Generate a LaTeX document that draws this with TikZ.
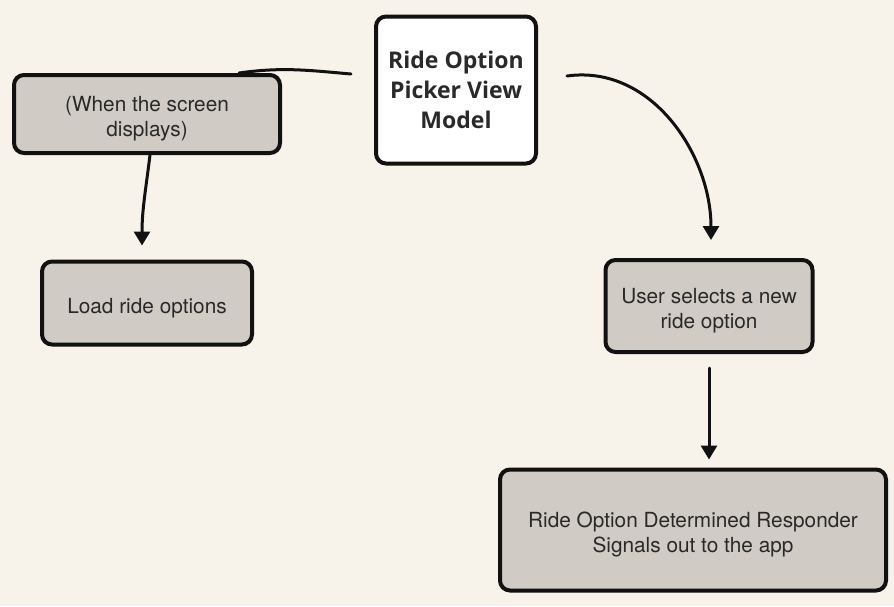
\documentclass[tikz,border=0pt]{standalone}
\usepackage{fontspec}
\setmainfont{TeX Gyre Heros}
\newfontfamily\vmfont{Open Sans}
\usepackage{tikz}
\usetikzlibrary{arrows.meta,positioning,calc}

\definecolor{paper}{HTML}{F7F3EA}
\definecolor{card}{HTML}{D0CCC5}
\definecolor{ink}{HTML}{111111}

% extra room above the first line, so that the text sits a little low
\newcommand{\topgap}{\rule{0pt}{12.5pt}}

\tikzset{
  box/.style={draw=ink, line width=2pt, rounded corners=5pt, fill=card,
    align=center, inner sep=0pt, font=\fontsize{10.4}{12.5}\selectfont, text=ink!90},
  vmbox/.style={box, fill=white, font=\vmfont\bfseries\fontsize{11.5}{15}\selectfont},
  link/.style={draw=ink, line width=1.5pt, line cap=round},
  arr/.style={link, -{Triangle[width=8pt,length=7pt]}}
}

\begin{document}
\begin{tikzpicture}[x=0.5pt,y=-0.5pt]
\fill[paper] (0,0) rectangle (894,606);
\useasboundingbox (0,0) rectangle (894,606);

\node[vmbox, minimum width=80pt, minimum height=73.5pt] (vm) at (456,90) {Ride Option\\Picker View\\Model};
\node[box, minimum width=133pt, minimum height=39pt] (when) at (147,114) {\topgap(When the screen\\displays)};
\node[box, minimum width=105pt, minimum height=41.5pt] (load) at (147,303) {\topgap Load ride options};
\node[box, minimum width=103.5pt, minimum height=46pt] (sel) at (709,306) {\topgap User selects a new\\ride option};
\node[box, minimum width=193pt, minimum height=60.5pt] (resp) at (693,530) {\topgap Ride Option Determined Responder\\Signals out to the app};

\draw[link] ([xshift=-11.5pt,yshift=8pt]vm.west) to[out=175,in=8] ([xshift=-21.5pt]when.north east);
\draw[arr] ([xshift=1.5pt]when.south) to[out=-97,in=90] ([xshift=-2.5pt,yshift=7pt]load.north);
\draw[arr] ([xshift=14.5pt,yshift=7pt]vm.east) to[out=8,in=90] ([xshift=1pt,yshift=9pt]sel.north);
\draw[arr] ([yshift=-7pt]sel.south) -- ([yshift=4pt]sel.south |- resp.north);
\end{tikzpicture}
\end{document}
